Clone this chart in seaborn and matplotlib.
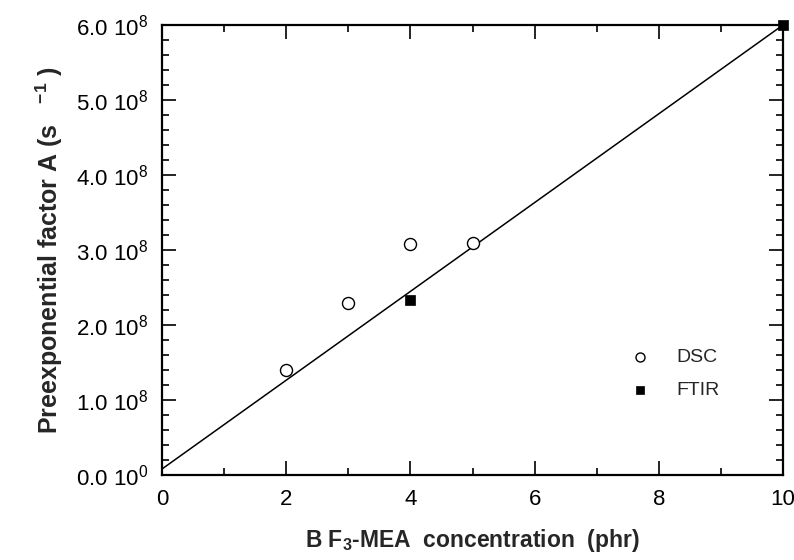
import pandas as pd
import matplotlib.pyplot as plt
import seaborn as sns
from matplotlib.ticker import MultipleLocator, FuncFormatter

# Values
dsc_conc = [2, 3, 4, 5]
dsc_A = [1.40e8, 2.30e8, 3.08e8, 3.10e8]
ftir_conc = [4, 10]
ftir_A = [2.33e8, 6.00e8]
fit_conc = [0, 10]
fit_A = [0.08e8, 6.00e8]

sns.set_style("ticks")
plt.rcParams['font.family'] = ['Liberation Sans', 'DejaVu Sans']
plt.rcParams['mathtext.fontset'] = 'custom'
plt.rcParams['mathtext.rm'] = 'Liberation Sans'
plt.rcParams['mathtext.it'] = 'Liberation Sans'
plt.rcParams['mathtext.bf'] = 'Liberation Sans:bold'

dsc = pd.DataFrame({"conc": dsc_conc, "A": dsc_A})
ftir = pd.DataFrame({"conc": ftir_conc, "A": ftir_A})

fig = plt.figure(figsize=(7.94, 5.6), dpi=100)
ax = fig.add_axes([162 / 794, 1 - 475 / 560, (783 - 162) / 794, 450 / 560])

sns.lineplot(x=fit_conc, y=fit_A, color="black", lw=1.1, ax=ax)
sns.scatterplot(data=dsc, x="conc", y="A", marker="o", s=75, facecolor="white",
                edgecolor="black", linewidth=1.0, label="DSC", ax=ax, zorder=3)
sns.scatterplot(data=ftir, x="conc", y="A", marker="s", s=55, color="black",
                edgecolor="black", linewidth=0.5, label="FTIR", ax=ax, zorder=3,
                clip_on=False)

ax.set_xlim(0, 10)
ax.set_ylim(0, 6e8)
ax.xaxis.set_major_locator(MultipleLocator(2))
ax.xaxis.set_minor_locator(MultipleLocator(1))
ax.yaxis.set_major_locator(MultipleLocator(1e8))
ax.yaxis.set_minor_locator(MultipleLocator(0.2e8))
ax.yaxis.set_major_formatter(FuncFormatter(
    lambda v, p: f"{v / 1e8:.1f} 10$^{{{8 if v > 0 else 0}}}$"))

ax.tick_params(which="both", direction="in", top=True, right=True, width=1.2,
               labelsize=16, colors="black")
ax.tick_params(which="major", length=10, pad=10)
ax.tick_params(which="minor", length=5)
for sp in ax.spines.values():
    sp.set_linewidth(1.6)
    sp.set_color("black")

ax.set_xlabel("B F$\\mathbf{_3}$-MEA  concentration  (phr)", fontsize=16.5,
              fontweight="bold", labelpad=12)
ax.set_ylabel("Preexponential factor A (s   $\\mathbf{^{-1}}$ )", fontsize=18,
              fontweight="bold", labelpad=8)

ax.legend(loc="center left", bbox_to_anchor=(0.71, 0.225), frameon=False,
          fontsize=14, markerscale=0.75, handletextpad=0.9, labelspacing=0.75)

fig.savefig("out.png", dpi=100)
